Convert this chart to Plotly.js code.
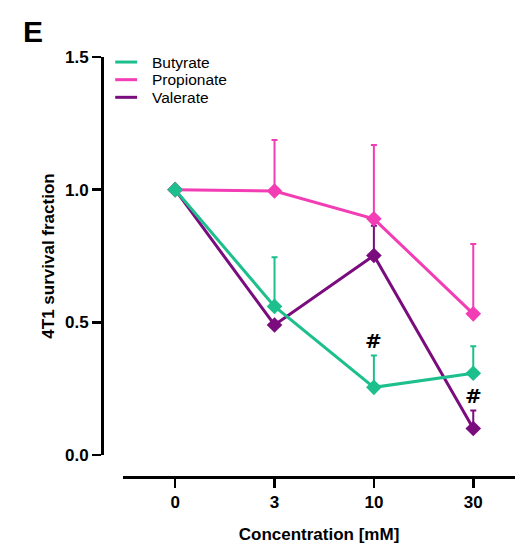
<!DOCTYPE html>
<html>
<head>
<meta charset="utf-8">
<script src="https://cdn.plot.ly/plotly-3.0.1.min.js"></script>
<style>html,body{margin:0;padding:0;background:#fff;}#chart{width:515px;height:550px;}</style>
</head>
<body>
<div id="chart"></div>
<script>
// ---- data ----
const concentrations = ["0", "3", "10", "30"];
const seriesNames = ["Butyrate", "Propionate", "Valerate"];
const butyrate = [1.0, 0.56, 0.255, 0.308];
const butyrateErr = [0, 0.185, 0.12, 0.102];
const propionate = [1.0, 0.995, 0.89, 0.532];
const propionateErr = [0, 0.192, 0.278, 0.263];
const valerate = [1.0, 0.49, 0.752, 0.1];
const valerateErr = [0, 0, 0.112, 0.068];
const sigMarks = [ // [series index, category index, label]
  [0, 2, "#"],
  [2, 3, "#"]
];
const colors = ["#1dbf8c", "#f23db4", "#7a0c7e"];

const values = [butyrate, propionate, valerate];
const errs = [butyrateErr, propionateErr, valerateErr];
const FONT = "Liberation Sans, Arial, sans-serif";

function mk(i) {
  return {
    x: concentrations, y: values[i], type: "scatter", mode: "lines+markers",
    name: seriesNames[i], showlegend: false,
    line: {color: colors[i], width: 3},
    marker: {symbol: "diamond", size: 12, color: colors[i]},
    error_y: {type: "data", symmetric: false, array: errs[i], arrayminus: errs[i].map(() => 0),
      color: colors[i], thickness: 2, width: 3}
  };
}
const traces = [mk(2), mk(1), mk(0)];

const annotations = [];
sigMarks.forEach(([s, c, t]) => {
  annotations.push({x: c, y: values[s][c] + errs[s][c], xref: "x", yref: "y",
    text: "<b>" + t + "</b>", showarrow: false, yanchor: "bottom", yshift: 0,
    font: {family: "DejaVu Sans, Liberation Sans, sans-serif", size: 20, color: "#000", weight: "bold"}});
});
// legend (text)
const legY = [0.988, 0.946, 0.904];
const shapes = [];
seriesNames.forEach((n, i) => {
  annotations.push({x: 0.117, y: legY[i], xref: "paper", yref: "paper", text: n, showarrow: false,
    xanchor: "left", yanchor: "middle", font: {family: FONT, size: 15.5, color: "#000"}});
  shapes.push({type: "line", xref: "paper", yref: "paper", x0: 0.032, x1: 0.085, y0: legY[i], y1: legY[i],
    line: {color: colors[i], width: 3}});
});
// panel letter
annotations.push({x: -0.195, y: 1.105, xref: "paper", yref: "paper", text: "<b>E</b>", showarrow: false,
  xanchor: "left", yanchor: "top", font: {family: FONT, size: 30, color: "#000"}});

const layout = {
  width: 515, height: 550,
  margin: {l: 102, r: 0, t: 57, b: 73},
  paper_bgcolor: "#fff", plot_bgcolor: "#fff",
  font: {family: FONT, color: "#000"},
  xaxis: {
    type: "category", range: [-0.524, 3.42], domain: [0.051, 1],
    anchor: "free", position: 0,
    showgrid: false, zeroline: false, showline: true, linecolor: "#000", linewidth: 3,
    ticks: "outside", ticklen: 9, tickwidth: 2.5, tickcolor: "#000",
    tickfont: {family: FONT, size: 17, color: "#000", weight: "bold"},
    title: {text: "<b>Concentration [mM]</b>", font: {family: FONT, size: 17, color: "#000"}, standoff: 16}
  },
  yaxis: {
    range: [0, 1.5], domain: [0.0524, 1], anchor: "free", position: 0,
    tickvals: [0, 0.5, 1.0, 1.5], ticktext: ["0.0", "0.5", "1.0", "1.5"],
    showgrid: false, zeroline: false, showline: true, linecolor: "#000", linewidth: 3,
    ticks: "outside", ticklen: 9, tickwidth: 2.5, tickcolor: "#000",
    tickfont: {family: FONT, size: 17, color: "#000", weight: "bold"},
    title: {text: "<b>4T1 survival fraction</b>", font: {family: FONT, size: 17, color: "#000"}, standoff: 4}
  },
  annotations: annotations,
  shapes: shapes
};
Plotly.newPlot("chart", traces, layout, {displayModeBar: false, staticPlot: true});
</script>
</body>
</html>
